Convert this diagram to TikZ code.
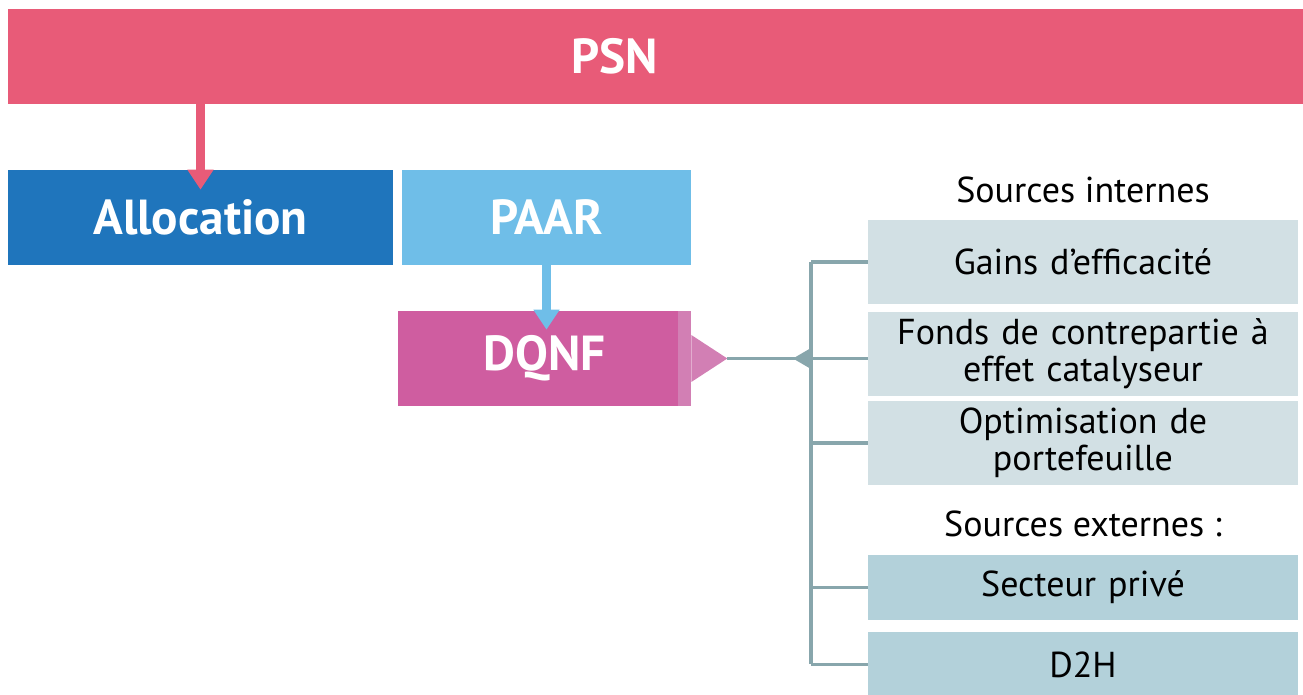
\documentclass[tikz,border=0pt]{standalone}
\usepackage{fontspec}
\setmainfont{PT Sans}
\usepackage{xcolor}
\usetikzlibrary{arrows.meta, positioning, calc}

\definecolor{psnpink}{HTML}{E85B78}
\definecolor{allocblue}{HTML}{1F75BC}
\definecolor{paarblue}{HTML}{6FBEE8}
\definecolor{dqnfmag}{HTML}{CF5DA0}
\definecolor{dqnflight}{HTML}{D27FB4}
\definecolor{intgrey}{HTML}{D2E0E4}
\definecolor{extblue}{HTML}{B3D1DA}
\definecolor{connclr}{HTML}{88A6AC}

\begin{document}
\begin{tikzpicture}[x=0.02cm, y=-0.02cm,
  bigbox/.style={inner sep=0pt, text=white, minimum height=1.9cm,
    font=\fontsize{28}{30}\selectfont\bfseries},
  srcbox/.style={inner sep=0pt, minimum width=8.6cm, text width=8.5cm, align=center,
    font=\fontsize{20.5}{21}\selectfont},
  head/.style={inner sep=0pt, font=\fontsize{20.5}{21}\selectfont},
  conn/.style={draw=connclr, line width=1.9pt},
  downarrow/.style={line width=0.17cm, -{Triangle[width=0.5cm, length=0.4cm]}}]
\useasboundingbox (0,0) rectangle (1303,695);

% Top level
\node[bigbox, fill=psnpink, minimum width=25.9cm] (psn) at (655.5,56.5) {};
\node[bigbox] (psntxt) at (614.5,56.5) {PSN};

% Second row
\node[bigbox, fill=allocblue, minimum width=7.7cm] (alloc) at (200.5,217.5) {Allocation};
\node[bigbox, fill=paarblue, minimum width=5.78cm] (paar) at (546.5,217.5) {PAAR};
\node[bigbox, fill=dqnfmag, minimum width=5.86cm] (dqnf) at (544.5,358.5) {DQNF};
\fill[dqnflight] ([xshift=-0.26cm]dqnf.north east) rectangle (dqnf.south east);

% Arrows down
\draw[downarrow, psnpink] (psn.south -| alloc) -- ([yshift=-0.4cm]alloc.north);
\draw[downarrow, paarblue] (paar.south) -- ([yshift=-0.38cm]dqnf.north -| paar);

% Sources
\node[head] (intlbl) at (1083,190) {Sources internes};
\node[srcbox, fill=intgrey, minimum height=1.68cm] (gains) at (1083,262) {Gains d’efficacité};
\node[srcbox, fill=intgrey, minimum height=1.68cm] (fonds) at (1083,354) {Fonds de contrepartie à\\effet catalyseur};
\node[srcbox, fill=intgrey, minimum height=1.68cm] (optim) at (1083,443) {Optimisation de\\portefeuille};
\node[head] (extlbl) at (1083,524) {Sources externes :};
\node[srcbox, fill=extblue, minimum height=1.3cm] (prive) at (1083,587.5) {Secteur privé};
\node[srcbox, fill=extblue, minimum height=1.3cm] (dtwoh) at (1083,664.5) {D2H};

% Connector from DQNF to the sources
\coordinate (tip) at ([xshift=0.72cm]dqnf.east);
\coordinate (bus) at (811,358.5);
\fill[dqnflight] ([yshift=0.47cm]dqnf.east) -- (tip) -- ([yshift=-0.47cm]dqnf.east) -- cycle;
\draw[conn] (tip) -- (tip -| fonds.west);
\draw[conn] (gains.west -| bus) -- (dtwoh.west -| bus);
\foreach \b in {gains, optim, prive, dtwoh}
  \draw[conn] (\b.west) -- (\b.west -| bus);
\fill[connclr] ([yshift=0.21cm]bus) -- ([xshift=-0.36cm]bus) -- ([yshift=-0.21cm]bus) -- cycle;
\end{tikzpicture}
\end{document}
